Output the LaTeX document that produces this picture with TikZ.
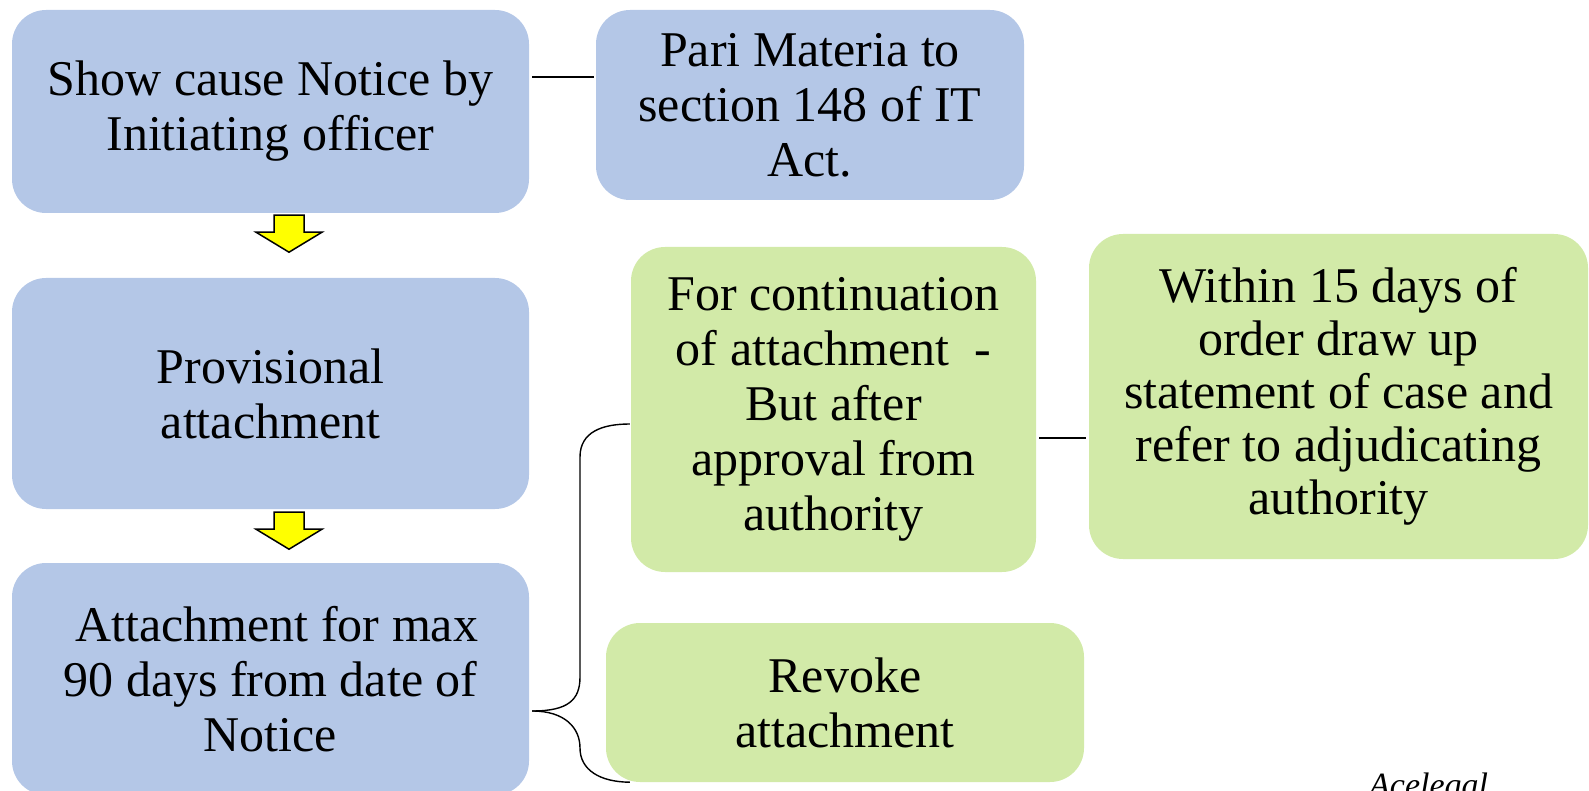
\documentclass[tikz,border=0pt]{standalone}
\usepackage{fontspec}
\setmainfont{Liberation Serif}
\usetikzlibrary{calc}
\definecolor{boxblue}{HTML}{B4C7E7}
\definecolor{boxgreen}{HTML}{D2EAA8}
\definecolor{arrowyellow}{HTML}{FFFF00}

\begin{document}
\begin{tikzpicture}[x=1pt,y=-1pt,
  box/.style={rectangle, rounded corners=34pt, align=center, inner sep=0pt,
    font=\fontsize{50}{55}\selectfont, text=black},
  bluebox/.style={box, fill=boxblue},
  greenbox/.style={box, fill=boxgreen},
  link/.style={draw=black, line width=1.6pt},
  downarrow/.pic={
    \draw[fill=arrowyellow, line width=1.5pt, line join=miter]
      (-15,0) -- (15,0) -- (15,17) -- (33,17) -- (0,37) -- (-33,17) -- (-15,17) -- cycle;
  }
]
\useasboundingbox (0,0) rectangle (1589,791);
\clip (0,0) rectangle (1589,791);

% left column
\node[bluebox, minimum width=517pt, minimum height=203pt] (b1) at (270.5,111.5)
  {Show cause Notice by\\Initiating officer};
\node[bluebox, minimum width=517pt, minimum height=231pt] (b2) at (270.5,393.5)
  {Provisional\\attachment};
\node[bluebox, minimum width=517pt, minimum height=232pt] (b3) at (270.5,679)
  {\ Attachment for max\\90 days from date of\\Notice};

% right side
\node[bluebox, minimum width=428pt, minimum height=190pt] (pari) at (810,105)
  {Pari Materia to\\section 148 of IT\\Act.};
\node[greenbox, minimum width=405pt, minimum height=325pt] (cont) at (833.5,409.5)
  {For continuation\\of attachment\ \ -\\But after\\approval from\\authority};
\node[greenbox, minimum width=499pt, minimum height=325pt,
  font=\fontsize{50}{53}\selectfont] (within) at (1338.5,396.5)
  {Within 15 days of\\order draw up\\statement of case and\\refer to adjudicating\\authority};
\node[greenbox, minimum width=478pt, minimum height=159pt] (revoke) at (845,702.5)
  {Revoke\\attachment};

% block arrows between the steps
\pic at ($(b1.south)+(18.5,2)$) {downarrow};
\pic at ($(b2.south)+(18.5,3)$) {downarrow};

% plain connectors
\coordinate (l1a) at ($(b1.north east)+(3,67)$);
\coordinate (l1b) at ($(pari.north west)+(-2,67)$);
\draw[link] (l1a) -- (l1b);

\coordinate (l2a) at ($(cont.east)+(3,28.5)$);
\coordinate (l2b) at ($(within.west |- l2a)+(-3,0)$);
\draw[link] (l2a) -- (l2b);

% brace from the attachment step to its two outcomes
\coordinate (tip) at ($(b3.east)+(3,32)$);
\coordinate (top) at ($(cont.west)+(-1,14.5)$);
\coordinate (bot) at ($(revoke.south west)+(24,0)$);
\draw[link, line width=1.4pt] (tip) .. controls (568,711) and (580,700) .. (580,677)
  -- (580,457) .. controls (580,432) and (602,424) .. (top);
\draw[link, line width=1.4pt] (tip) .. controls (565,711) and (580,728) .. (580,748)
  .. controls (580,770) and (600,782) .. (bot);

\node[anchor=base west, inner sep=0pt, font=\fontsize{34}{34}\selectfont\itshape] (sig)
  at (1369,796) {Acelegal};
\end{tikzpicture}
\end{document}
